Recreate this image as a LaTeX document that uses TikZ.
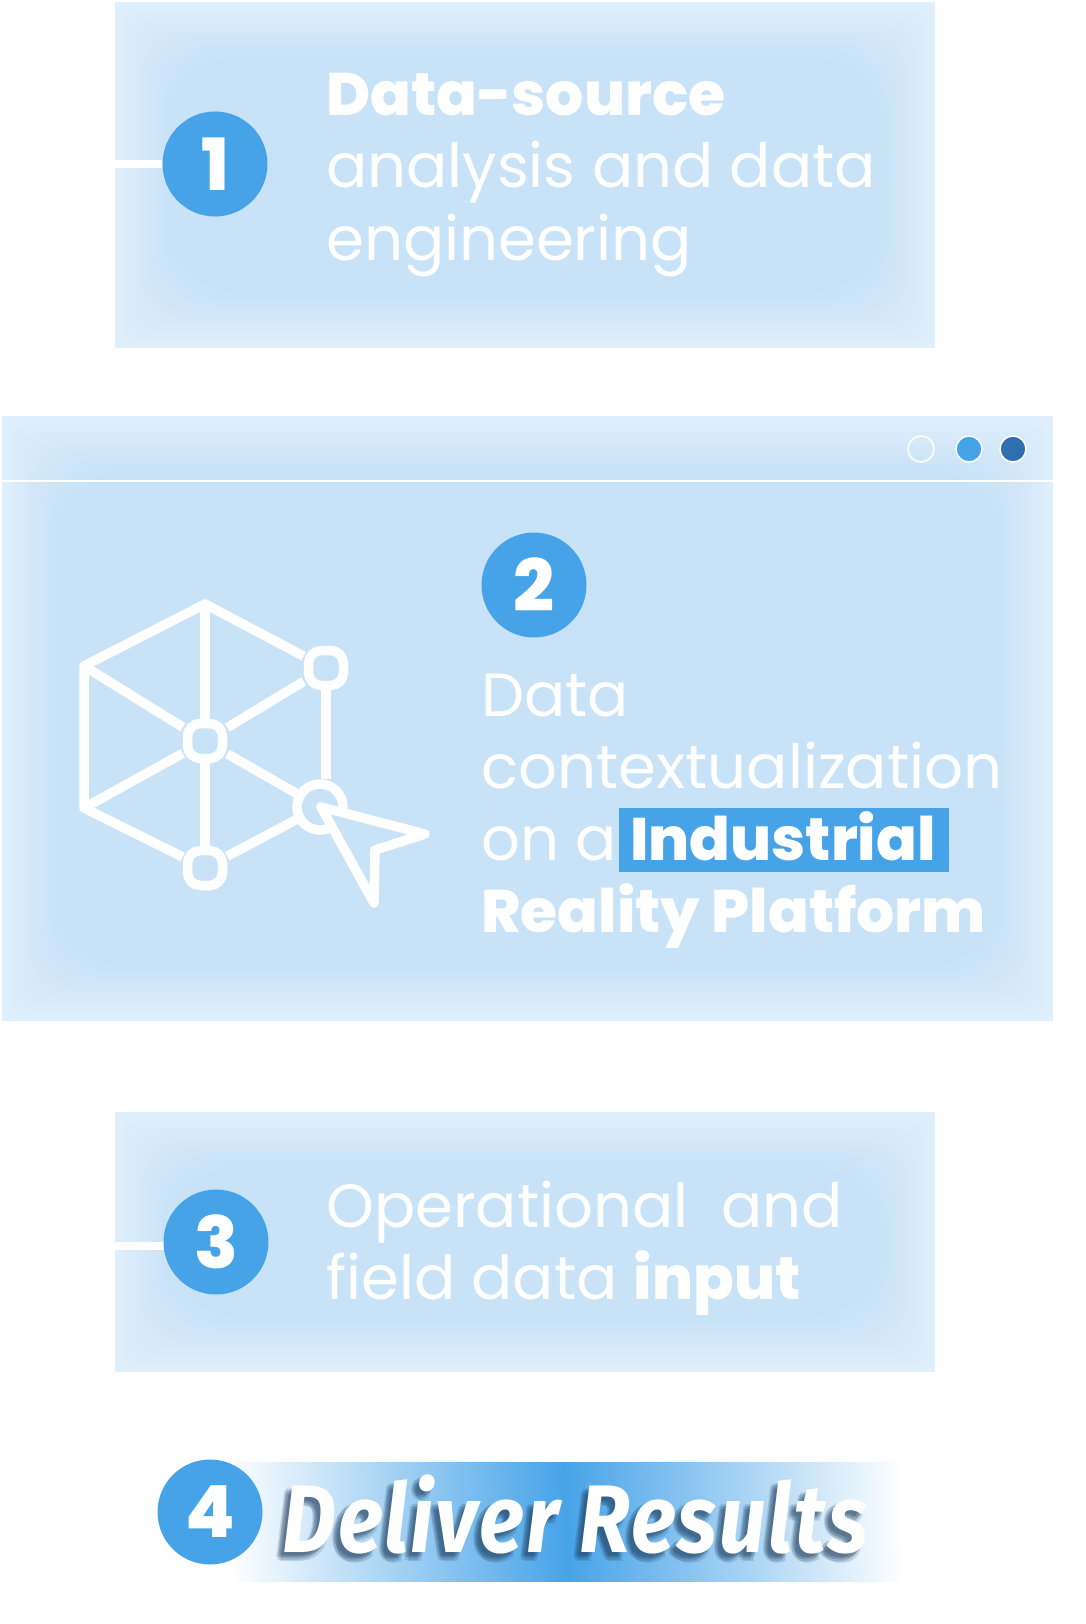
\documentclass[tikz,border=0pt]{standalone}
\usepackage{fontspec}
\setmainfont{Poppins}[BoldFont=* ExtraBold]
\newfontfamily\titlefont{Fira Sans}[BoldItalicFont=* Bold Italic, LetterSpace=2.5]
\usepackage{tikz}
\usetikzlibrary{shapes.geometric, positioning, calc}

\definecolor{paneblue}{HTML}{C8E3F7}
\definecolor{paneedge}{HTML}{E0EFFB}
\definecolor{numblue}{HTML}{47A3E8}
\definecolor{dotblue}{HTML}{2E6FB0}
\definecolor{shadowblue}{HTML}{1F3F5F}

% heavy words in the labels
\newcommand{\heavy}[1]{{\fontsize{60}{72}\selectfont\bfseries #1}}

% soft edged panel: node name, then nested rectangles up to the full colour
\newcommand{\softpane}[1]{
    \foreach \k in {0,...,30} {
        \pgfmathsetmacro{\mixval}{100*\k/30}
        \fill[paneblue!\mixval!paneedge, rounded corners=\k*2.4pt]
            ([xshift=\k*1.8pt, yshift=\k*1.8pt]#1.south west) rectangle ([xshift=-\k*1.8pt, yshift=-\k*1.8pt]#1.north east);
    }
}

\begin{document}
\begin{tikzpicture}[
    x=1pt, y=-1pt,
    pane/.style={rectangle, inner sep=0pt, minimum width=#1},
    number/.style={circle, fill=numblue, text=white, minimum size=105pt, inner sep=0pt, font=\fontsize{72}{72}\selectfont\bfseries},
    lbl/.style={anchor=base west, inner sep=0pt, text=white, font=\fontsize{61}{72}\selectfont},
    stub/.style={white, line width=8pt},
    wire/.style={white, line width=9.5pt, line join=round},
    hub/.style={draw=white, line width=9.5pt, rectangle, rounded corners=13pt, minimum size=35pt, inner sep=0pt},
    winbtn/.style={circle, draw=white, line width=1.5pt, minimum size=26pt, inner sep=0pt},
    banner/.style={inner sep=0pt, font=\fontsize{96}{96}\titlefont\bfseries\itshape, xscale=0.87}
]
    \useasboundingbox (0,0) rectangle (1085,1624);

    % ========== Panel 1 ==========
    \node (pane1) [pane=820pt, minimum height=346pt] at (525,175) {};
    \softpane{pane1}
    \node (num1) [number] at (215,164) {1};
    \coordinate (stub1) at (pane1.west |- num1);
    \draw [stub] (stub1) -- (num1);
    \node (line1a) [lbl] at (326,116) {\heavy{Data-source}};
    \node (line1b) [lbl] at (326,188) {analysis and data};
    \node (line1c) [lbl] at (326,260) {engineering};

    % ========== Panel 2 ==========
    \node (pane2) [pane=1051pt, minimum height=605pt] at (527.5,718.5) {};
    \softpane{pane2}
    \coordinate (rule_l) at ($(pane2.north west)+(0,65)$);
    \coordinate (rule_r) at ($(pane2.north east)+(0,65)$);
    \draw [white, line width=2pt] (rule_l) -- (rule_r);
    \node (btn1) [winbtn] at (921,449) {};
    \node (btn2) [winbtn, fill=numblue] at (969,449) {};
    \node (btn3) [winbtn, fill=dotblue] at (1013,449) {};
    \node (num2) [number] at (534,585) {2};
    \node (line2a) [lbl] at (481,716) {Data};
    \node (line2b) [lbl] at (481,788) {contextualization};
    \node (line2c) [lbl] at (481,860) {on a};
    \node (mark2) [fill=numblue, minimum width=330pt, minimum height=64pt, inner sep=0pt] at (784,840) {};
    \node (line2d) [lbl] at (630,860) {\heavy{Industrial}};
    \node (line2e) [lbl] at (481,932) {\heavy{Reality Platform}};

    % Network icon
    \node (hub_c) [hub] at (205,741) {};
    \node (hub_r) [hub] at (326,668) {};
    \node (hub_b) [hub] at (205,868) {};
    \node (hub_p) [hub, circle, minimum size=46pt] at (320,807) {};
    \coordinate (cor_t) at (205,604);
    \coordinate (cor_lt) at (84,666);
    \coordinate (cor_lb) at (84,808);
    \draw [wire] (hub_r) -- (cor_t) -- (cor_lt) -- (cor_lb) -- (hub_b);
    \draw [wire] (cor_t) -- (hub_c) -- (hub_b);
    \draw [wire] (cor_lt) -- (hub_c) -- (cor_lb);
    \draw [wire] (hub_r) -- (hub_c);
    \draw [wire] (hub_c) -- (hub_p);
    \draw [wire] (hub_r) -- (hub_r |- hub_p.north);
    \draw [wire] (hub_b) -- (hub_p);
    \draw [wire, fill=paneblue] (321,807) -- (425,834) -- (375,850) -- (374,903) -- cycle;

    % ========== Panel 3 ==========
    \node (pane3) [pane=820pt, minimum height=260pt] at (525,1242) {};
    \softpane{pane3}
    \coordinate (stub3) at (pane3.west |- 0,1246);
    \draw [stub] (stub3) -- (stub3 -| 230,0);
    \node (num3) [number] at (216,1242) {3};
    \node (line3a) [lbl] at (326,1227) {Operational\ \ and};
    \node (line3b) [lbl] at (326,1299) {field data \heavy{input}};

    % ========== Result banner ==========
    \node (band4) [rectangle, minimum width=698pt, minimum height=119pt, inner sep=0pt] at (566,1522) {};
    \shade [left color=white, right color=white, middle color=numblue, shading angle=92]
        (band4.south west) rectangle (band4.north east);
    \node (num4) [number] at (210,1512) {4};
    \foreach \dx/\dy in {-5/6,-7/8,-3/4,-8/5,-4/9,-6/3} {
        \node [banner, text=shadowblue, opacity=0.17] at (575+\dx,1514+\dy) {Deliver Results};
    }
    \node (title4) [banner, text=white] at (575,1514) {Deliver Results};
\end{tikzpicture}
\end{document}
